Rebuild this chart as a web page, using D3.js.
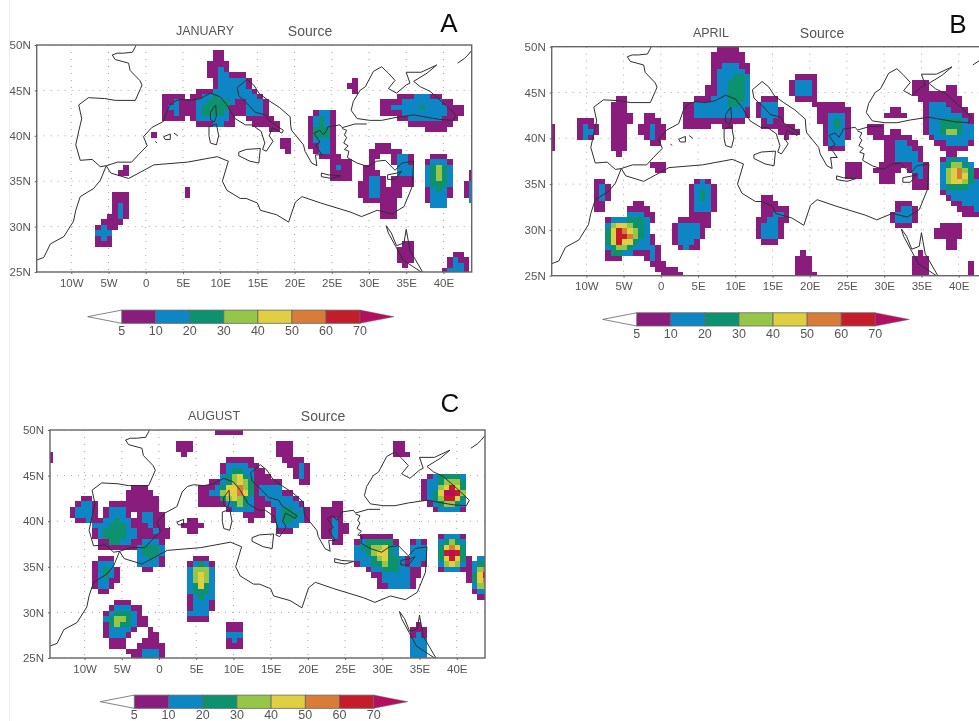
<!DOCTYPE html>
<html><head><meta charset="utf-8">
<script src="https://cdn.jsdelivr.net/npm/d3@7"></script>
<style>html,body{margin:0;padding:0;background:#fff}svg{display:block}text{font-family:"Liberation Sans",Arial,sans-serif}</style>
</head><body><svg id="c" width="979" height="721"></svg>
<script>
// Class limits and colours of the colour bar
const barLabels = [5,10,20,30,40,50,60,70];
const classColors = ["#8a1f7e","#0f86c6","#089270","#96c646","#e0cf40","#d97c38","#c41e2a","#b5115e"];
const classValues = [7,15,25,35,45,55,65,75];
const lonTicks = [-10,-5,0,5,10,15,20,25,30,35,40];
const latTicks = [25,30,35,40,45,50];
const lonCell = 0.75, latCell = 0.6, lonStart = -14.25, latStart = 50;

// Cell runs: [row, first column, class digits (1..8, 0 = below 5)]
const januaryCells = [
[1,31,"11"],[2,31,"11"],[3,30,"1111"],[4,30,"1121"],[5,30,"1122111"],[6,31,"1222221"],[7,31,"1222221"],
[8,28,"1112222222"+"1"],[9,22,"1111"],[9,27,"112232222222"+"1"],
[10,22,"112111"+"22"+"3333"+"2"+"11"+"222"+"1"],[11,22,"122111"+"2"+"33333"+"111"+"222"+"1"],
[12,22,"112111"+"2"+"3333"+"2"+"111"+"222"+"1"],[13,22,"1111"],[13,27,"12222221"],[13,37,"11111"],
[14,28,"1112211"],[14,38,"11111"],[15,41,"11"],[17,43,"11"],[18,43,"11"],[19,44,"1"],
[12,49,"1221"],[13,48,"12321"],[14,48,"12321"],[15,48,"13331"],[16,48,"13331"],[17,48,"12221"],[18,48,"11221"],
[19,49,"1221"],[20,50,"1111"],[21,52,"1111"],[22,52,"1211"],[23,52,"1111"],[24,52,"1111"],
[6,56,"1"],[7,55,"11"],[8,56,"1"],
[9,64,"11122211"],[10,61,"1111222222211"],[11,61,"1122222"+"3"+"2222"+"111"],[12,61,"1111"+"22222222"+"111"],
[13,64,"11"+"222222"+"111"],[14,66,"11111111"],[15,69,"1111"],
[18,60,"111"],[19,59,"111111"],[20,59,"11001221"],[21,59,"10001221"],[22,58,"11"+"0000"+"222"],[23,58,"111"+"000"+"222"],
[24,58,"1221"+"0"+"1111"],[25,57,"11"+"22"+"1"+"0"+"1111"],[26,57,"11"+"22"+"1111"],[27,57,"11"+"22"+"1111"],
[28,58,"111111"],[29,61,"111"],[30,61,"111"],[31,61,"111"],
[20,70,"111"],[21,69,"12221"],[22,69,"23432"],[23,69,"23432"],[24,69,"23432"],[25,69,"23332"],[26,69,"12321"],
[27,69,"12221"],[28,69,"1222"],[29,70,"222"],
[23,77,"1"],[24,77,"1"],[25,76,"12"],[26,76,"12"],[27,76,"12"],[28,77,"2"],
[36,65,"11"],[37,64,"111"],[38,64,"111"],[39,64,"111"],[40,65,"1"],
[38,74,"11"],[39,73,"1211"],[40,73,"1221"],[41,72,"12221"],
[16,20,"1"],[22,15,"1"],[23,14,"11"],[26,26,"1"],[27,26,"1"],
[27,13,"111"],[28,13,"111"],[29,13,"121"],[30,13,"121"],[31,12,"1121"],[32,11,"1111"],[33,10,"1211"],[34,10,"222"],[35,10,"121"],[36,10,"111"]
];
const aprilCells = [
[14,-1,"1"],[15,-1,"1"],[16,-1,"1"],[17,-1,"1"],[18,-1,"1"],
[13,4,"111"],[14,4,"1211"],[15,4,"1221"],[16,4,"121"],
[9,11,"11"],[10,10,"111"],[11,10,"111"],[12,10,"1111"],[13,10,"1111"],[14,10,"111"],[15,10,"111"],[16,10,"111"],[17,10,"111"],[18,10,"111"],[19,11,"1"],
[12,16,"11"],[13,16,"111"],[14,15,"11211"],[15,15,"11211"],[16,16,"1211"],[17,17,"11"],[21,17,"111"],[22,18,"11"],
[24,7,"11"],[25,7,"121"],[26,7,"121"],[27,7,"121"],[28,7,"11"],[29,7,"11"],
[28,14,"11"],[29,13,"1111"],[30,13,"22211"],[31,9,"122233321"],[32,9,"24554332"],[33,9,"35765432"],[34,9,"357764321"],
[35,9,"357553221"],[36,9,"2344322221"],[37,9,"1332211121"],[38,9,"111"],[38,16,"121"],[39,17,"111"],[40,18,"1111"],[41,19,"1111"],
[24,25,"121"],[25,24,"12221"],[26,24,"12321"],[27,24,"12321"],[28,24,"12221"],[29,24,"12221"],[30,24,"1111"],[31,22,"111111"],
[32,21,"1222211"],[33,21,"122221"],[34,21,"122221"],[35,21,"12221"],[36,22,"1211"],
[0,29,"1111"],[1,28,"111111"],[2,28,"111111"],[3,28,"1122211"],[4,28,"1222221"],[5,28,"1222332"],[6,28,"1223332"],[7,27,"11223332"],
[8,27,"11223332"],[9,25,"1112223332"],[10,23,"11222222"+"33"+"22"],[11,23,"11"+"222222222"+"1"],[12,23,"11"+"222222222"+"1"],
[13,23,"11111111111"],[14,23,"11111"],[14,30,"11"],
[9,37,"111"],[10,36,"1222"],[11,36,"12221"],[12,36,"12221"],[13,37,"1211"],[14,37,"111111"],[15,40,"1111"],[16,41,"1"],
[5,43,"1111"],[6,42,"12221"],[7,42,"12221"],[8,42,"12221"],[9,43,"1111"],[10,46,"111111"],[11,47,"111111"],[12,47,"112221"],
[13,47,"112321"],[14,48,"12321"],[15,48,"12221"],[16,48,"12221"],[17,48,"1222"],[18,49,"111"],
[21,52,"111"],[22,52,"111"],[23,52,"111"],
[11,60,"11"],[12,59,"1111"],[14,56,"111"],[15,56,"111"],[16,57,"11"],[15,60,"11"],[16,59,"11111"],[17,59,"112211"],[18,59,"1122211"],
[19,59,"1122221"],[20,59,"1122221"],[21,58,"111111221"],[22,57,"11111"+"0"+"1221"],[23,58,"111"],[23,64,"121"],[24,58,"111"],[24,64,"111"],[25,64,"111"],
[6,64,"111"],[7,64,"111"],[7,70,"11"],[8,64,"11111111"],[9,65,"11111111"],[10,66,"1222111"],[11,66,"12222111"],[12,66,"122222211"],
[13,66,"122333321"],[14,66,"122333322"],[15,66,"122344322"],[16,67,"12222222"],[17,68,"1122221"],[18,69,"11111"],[19,70,"11"],
[20,69,"12322"],[21,69,"234432"],[22,69,"2456431"],[23,69,"24565311"],[24,69,"24554321"],[25,69,"233332222"],[26,69,"122222222"],
[27,70,"12222222"],[28,71,"1122222"],[29,72,"111222"],[30,73,"11111"],
[28,61,"111"],[29,61,"1221"],[30,60,"12221"],[31,60,"12221"],[32,61,"111"],
[27,37,"11"],[28,37,"111"],[29,37,"11111"],[30,37,"11221"],[31,36,"112211"],[32,36,"12221"],[33,36,"12221"],[34,36,"12221"],[35,37,"111"],
[32,69,"1111"],[33,68,"11111"],[34,68,"11111"],[35,70,"11"],[36,70,"11"],
[37,44,"1"],[38,43,"111"],[39,43,"111"],[40,43,"111"],[41,43,"1111"],
[37,65,"1"],[38,64,"111"],[39,64,"111"],[40,64,"111"],[41,64,"111"],[39,74,"1"],[40,74,"1"],[41,74,"1"]
];
const augustCells = [
[0,29,"11111"],[2,22,"111"],[3,22,"111"],[4,23,"1"],[4,-1,"1"],[5,-1,"1"],
[5,31,"11111"],[6,30,"1222211"],[7,30,"12332211"],[8,30,"234532111"],[9,28,"1123454311111"],[10,26,"111235564312222"],
[11,26,"1122455653122221"+"1"],[12,26,"1111345432"+"11"+"22222"+"1"],[13,26,"11111"+"23432"+"111"+"22222"+"1"],
[14,31,"12222"+"11"+"0"+"1"+"2"+"33"+"22"+"1"],[15,34,"1111"+"0"+"1"+"2"+"333"+"2"+"1"],[16,35,"1"],[16,39,"1233221"],[17,40,"2222"],[18,40,"111"],
[2,40,"111"],[3,40,"111"],[4,40,"111"],[5,41,"1111"],[6,42,"1121"],[7,43,"121"],[8,43,"121"],[9,44,"11"],
[13,50,"11"],[14,48,"1111"],[15,48,"1111"],[16,48,"1121"],[17,48,"11211"],[18,48,"11211"],[19,48,"1121"],[20,50,"11"],
[19,55,"111111"],[20,54,"12333331"],[21,54,"23344532"],[22,54,"22345532"],[23,54,"222345332"],[24,54,"1223343321"],[25,56,"122333221"],
[26,57,"1122222"+"11"],[27,58,"1222221"],[28,58,"1122221"],
[20,64,"121"],[21,64,"222"],[22,64,"222"],[23,63,"1222"],[24,63,"1221"],[25,64,"11"],[26,64,"1"],
[19,69,"12221"],[20,69,"23432"],[21,69,"35653"],[22,69,"37873"],[23,69,"35753"],[24,69,"24542"],[25,69,"12221"],
[23,74,"1"],[23,76,"22"],[24,74,"1233"],[25,74,"1246"],[26,74,"1357"],[27,74,"1356"],[28,75,"244"],[29,75,"122"],[30,76,"11"],
[8,67,"1233332"],[9,66,"12234443"],[10,66,"12245753"],[11,66,"12358874"],[12,66,"12347753"],[13,67,"1234432"],[14,68,"122221"],
[2,61,"11"],[3,61,"11"],[4,61,"111"],
[35,65,"1"],[36,64,"111"],[37,64,"121"],[38,64,"222"],[39,64,"222"],[40,64,"222"],[41,64,"222"],
[10,14,"111"],[11,13,"11111"],[12,5,"11"],[12,13,"111111"],[13,4,"1221"],[13,10,"111111111"],[14,3,"12221"],[15,3,"12221"],
[14,9,"1222111111"],[15,9,"12221"+"0"+"1"+"22"+"11"],[16,4,"1121"],[16,7,"1122322"+"11"+"22"+"11"],[17,7,"2223332"+"111"+"2"+"11"],
[18,7,"12333322"+"111"+"2"+"11"],[19,7,"12333322"+"1111"+"11"],[20,8,"11"+"3322"+"11"+"222"+"1"],[21,8,"1111111"+"2"+"333"+"2"],
[22,15,"23332"],[23,15,"22321"],[24,15,"22221"],[25,16,"11"],
[23,8,"111"],[24,7,"1222"],[25,7,"12321"],[26,7,"12321"],[27,7,"12211"],[28,7,"1221"],[29,8,"11"],
[31,11,"111"],[32,10,"122211"],[33,9,"1233321"],[34,9,"23443211"],[35,9,"13433211"],[36,9,"122221"],[37,9,"12221"],[38,10,"111"],[39,10,"111"],
[36,17,"1"],[37,17,"11"],[38,16,"111"],[39,15,"11111"],[40,13,"1112221"],[41,14,"112221"],
[23,25,"111"],[24,24,"12321"],[25,24,"24442"],[26,24,"24542"],[27,24,"24542"],[28,24,"23532"],[29,24,"23332"],[30,24,"12322"],
[31,24,"12221"],[32,24,"12221"],[33,24,"2222"],[34,24,"1111"],
[35,31,"111"],[36,31,"111"],[37,31,"222"],[38,31,"121"],[39,31,"111"],
[16,24,"11"],[17,23,"1111"],[18,24,"11"]
];

// Coastlines as [lon, lat] polylines
const coastlines = [
[[-1.3,50],[-1.4,49.8],[-1.8,49.2],[-3,49.1],[-3.85,49.1],[-4.5,48.9],[-4.1,48.4],[-2.3,48],[-2.1,47.2],[-0.8,46.1],[-0.5,45.6],[-0.7,45.2],[-1.4,43.9],[-4.1,43.9],[-5.5,44.1],[-7.7,44.2],[-9,43.4],[-8.6,41.9],[-9,40.5],[-9.4,39],[-8.8,37.3],[-7.2,37.4],[-6.1,36.6],[-5.3,36.7],[-3.8,37.1],[-1.9,37.1],[-1,37.9],[0.2,38.9],[-0.3,39.9],[0.8,40.9],[2.4,41.6],[3.1,43.2],[3.8,43.8],[4.65,44],[6,43.9],[7.3,44.1],[8.7,44.7],[10,44.3],[10.9,43.4],[12,41.9],[13.4,41.2],[14.3,41.2],[15.5,40.5],[16,39.2],[15.7,38.5],[16.2,38.3],[17.1,39.4],[16.6,40],[17,40.9],[18.3,40.3],[18.5,40.6],[16.5,41.7],[16.1,42.3],[14.7,42.6],[13.7,43.5],[12.5,44.4],[12.3,45.3],[13.6,46.2],[14.5,45.6],[15.3,44.6],[16.5,43.9],[18,43.1],[19.4,42.1],[19.5,41],[19.6,40.6],[21.2,39],[21.4,38.3],[22.3,37],[23,36.7],[22.8,37.9],[23.7,37.9],[23.1,38.6],[22.8,39],[23.4,39.3],[22.6,40.3],[23.4,40.6],[23.9,40.1],[24.3,40.6],[24.5,41],[26.1,41.2],[26.4,40.9],[28.1,41.3],[29.7,41.3]],
[[26.4,40.8],[27,40.6],[26.7,40.1],[27,39.8],[26.6,39.2],[27.2,38.9],[26.7,38.5],[27.3,38.3],[27.1,37.6],[28.4,37],[29.9,36.6],[31,37.2],[32.2,37.3],[33.5,36.2],[34.4,37],[36,37.2],[35.8,34.4],[34.7,32.2],[33.1,31.4],[31.1,31.8],[29,31.1],[27.5,31.6],[23.5,32.6],[21,33.3],[20.1,32.7],[19.2,30.5],[17.6,31.3],[15.4,31.8],[15,32.6],[13.5,33.1],[12.7,33.1],[10.9,34],[10.3,35],[11.1,37.2],[9.6,37.7],[5.6,37.1],[1.1,36.8],[-0.7,36],[-2.3,35.3],[-4.7,35.9],[-5.3,36.7],[-6.1,35.1],[-7,34.2],[-8.8,33.3],[-9.4,31.8],[-9.7,30.6],[-11,28.9],[-12.8,28.1],[-13.7,26.6],[-14.7,26.3]],
[[28.4,41.9],[27.6,42.8],[27.9,43.8],[28.8,45],[29.5,45.4],[30.6,47.1],[31.7,47.6],[32.6,46.9],[33.5,46.1],[32.6,45.2],[33.7,44.7],[35,45.6],[35.5,45.8],[35,47],[37,47],[39.1,47.8],[37.8,46.9],[36,46],[36.9,45.4],[38.2,44.9],[40,43.6],[41.7,42.3],[41.3,41.7],[39.5,41.8],[36,42.3],[33.5,42],[31.7,41.7],[30.1,41.7],[28.4,41.9]],
[[12.5,38.2],[13.5,38.5],[15.4,38.6],[15.2,37],[14,37.2],[12.5,37.8],[12.5,38.2]],
[[8.5,41],[9.5,41.3],[9.8,40],[9.5,39],[8.7,39.2],[8.5,40],[8.5,41]],
[[8.7,42.6],[9.4,43.4],[9.5,42.2],[9.2,41.5],[8.7,41.8],[8.7,42.6]],
[[2.4,39.9],[3.3,40.2],[3.3,39.6],[2.6,39.6],[2.4,39.9]],
[[3.8,40.3],[4.3,40]],[[1.3,39.4],[1.5,39.2]],
[[23.6,35.9],[24.5,35.7],[26.2,35.6],[25,35.3],[23.6,35.5],[23.6,35.9]],
[[32.5,35.7],[33.8,35.9],[34.4,36.1],[33.5,35.2],[32.5,35.2],[32.5,35.7]],
[[32.3,30.1],[32.6,29.3],[33.6,27.8],[34.6,26.3],[35.9,25.6],[37.2,24.9]],
[[32.3,30.1],[33,29.3],[33.7,27.9],[34.7,28.2],[35,29.7],[35.5,27.4],[37.2,25]],
[[41.9,48],[42.8,48.5],[43.3,48.9],[43.8,49.4]]
];

// Panels
const panels = [
 {cells:januaryCells, month:"JANUARY", letter:"A", left:36.7, right:471.7, top:45, bottom:272, monthX:205, sourceX:310, titleY:32, letterX:449, letterY:25, barL:121.7, barR:360, barY:316.7, labelY:331.7, tickY:285},
 {cells:aprilCells, month:"APRIL", letter:"B", left:551.7, right:987, top:46.7, bottom:275.7, monthX:711, sourceX:822, titleY:34, letterX:958, letterY:26, barL:636.7, barR:875.3, barY:319.4, labelY:334.3, tickY:287},
 {cells:augustCells, month:"AUGUST", letter:"C", left:50, right:485, top:430, bottom:658, monthX:214, sourceX:323, titleY:417, letterX:450, letterY:405.5, barL:134.3, barR:373.7, barY:701.7, labelY:716, tickY:670}
];
const svg = d3.select("#c");
svg.append("defs").append("filter").attr("id","soft").attr("x",0).attr("y",0).attr("width","100%").attr("height","100%")
   .append("feGaussianBlur").attr("stdDeviation",0.45);
const root = svg.append("g").attr("filter","url(#soft)");
root.append("line").attr("x1",9).attr("x2",9).attr("y1",0).attr("y2",721).attr("stroke","#dcdcdc");
const ink = "#555";
const bandScale = d3.scaleThreshold().domain(barLabels.slice(1)).range(classColors);

panels.forEach((p,i)=>{
  const g = root.append("g");
  const x = d3.scaleLinear().domain([-14.65,43.8]).range([p.left,p.right]);
  const y = d3.scaleLinear().domain([25,50]).range([p.bottom,p.top]);
  const clipId = "clip"+i;
  g.append("clipPath").attr("id",clipId).append("rect").attr("x",p.left).attr("y",p.top).attr("width",p.right-p.left).attr("height",p.bottom-p.top);
  const plot = g.append("g").attr("clip-path",`url(#${clipId})`);
  // dotted graticule
  plot.selectAll("line.v").data(lonTicks).join("line").attr("x1",d=>x(d)).attr("x2",d=>x(d)).attr("y1",p.top).attr("y2",p.bottom);
  plot.selectAll("line.h").data(latTicks).join("line").attr("x1",p.left).attr("x2",p.right).attr("y1",d=>y(d)).attr("y2",d=>y(d));
  plot.selectAll("line").attr("stroke","#a8a8a8").attr("stroke-width",1).attr("stroke-dasharray","1 6");
  // cells
  const cells = p.cells.flatMap(([r,c,s])=>Array.from(s).map((k,j)=>({r,c:c+j,v:+k?classValues[+k-1]:null}))).filter(d=>d.v!==null);
  plot.selectAll("rect.cell").data(cells).join("rect").attr("class","cell")
    .attr("x",d=>x(lonStart+d.c*lonCell)).attr("width",d=>x(lonStart+(d.c+1)*lonCell)-x(lonStart+d.c*lonCell))
    .attr("y",d=>y(latStart-d.r*latCell)).attr("height",d=>y(latStart-(d.r+1)*latCell)-y(latStart-d.r*latCell))
    .attr("fill",d=>bandScale(d.v)).attr("shape-rendering","crispEdges");
  // coast
  const line = d3.line().x(d=>x(d[0])).y(d=>y(d[1]));
  plot.selectAll("path.coast").data(coastlines).join("path").attr("class","coast").attr("d",line)
    .attr("fill","none").attr("stroke","#2f2f2f").attr("stroke-width",1);
  // frame
  g.append("rect").attr("x",p.left).attr("y",p.top).attr("width",p.right-p.left).attr("height",p.bottom-p.top)
    .attr("fill","none").attr("stroke","#666").attr("stroke-width",1.4);
  // axes
  const fmtLon = d=>d===0?"0":Math.abs(d)+(d<0?"W":"E");
  const ax = g.append("g").attr("transform",`translate(0,${p.bottom})`).call(d3.axisBottom(x).tickValues(lonTicks).tickFormat(fmtLon).tickSize(2).tickPadding(i===1?4:5));
  const ay = g.append("g").attr("transform",`translate(${p.left},0)`).call(d3.axisLeft(y).tickValues(latTicks).tickFormat(d=>d+"N").tickSize(2).tickPadding(4));
  [ax,ay].forEach(a=>{a.select(".domain").remove();a.selectAll("line").attr("stroke","#666");
    a.selectAll("text").attr("fill",ink).style("font-size","11.5px").style("font-family","Liberation Sans");});
  // titles
  g.append("text").text(p.month).attr("x",p.monthX).attr("y",p.titleY).attr("text-anchor","middle").attr("dominant-baseline","middle").attr("fill",ink).style("font-size","12.5px");
  g.append("text").text("Source").attr("x",p.sourceX).attr("y",p.titleY).attr("text-anchor","middle").attr("dominant-baseline","middle").attr("fill",ink).style("font-size","14px");
  g.append("text").text(p.letter).attr("x",p.letterX).attr("y",p.letterY).attr("text-anchor","middle").attr("dominant-baseline","middle").attr("fill","#111").style("font-size","26px");
  // colour bar
  const bx = d3.scalePoint().domain(barLabels).range([p.barL,p.barR]);
  const h = 6.6, tip = 34;
  const b = g.append("g");
  b.selectAll("rect").data(barLabels.slice(0,-1)).join("rect")
    .attr("x",d=>bx(d)).attr("y",p.barY-h).attr("height",2*h)
    .attr("width",(d,j)=>bx(barLabels[j+1])-bx(d))
    .attr("fill",d=>classColors[barLabels.indexOf(d)]).attr("stroke","#666").attr("stroke-width",0.8);
  b.append("path").attr("d",`M${p.barL},${p.barY-h}L${p.barL-tip},${p.barY}L${p.barL},${p.barY+h}Z`).attr("fill","#fff").attr("stroke","#666").attr("stroke-width",0.8);
  b.append("path").attr("d",`M${p.barR},${p.barY-h}L${p.barR+tip},${p.barY}L${p.barR},${p.barY+h}Z`).attr("fill",classColors[7]).attr("stroke","#666").attr("stroke-width",0.5);
  b.selectAll("text").data(barLabels).join("text").text(d=>d).attr("x",d=>bx(d)).attr("y",p.labelY).attr("text-anchor","middle").attr("dominant-baseline","middle").attr("fill",ink).style("font-size","12.5px");
});
</script></body></html>
